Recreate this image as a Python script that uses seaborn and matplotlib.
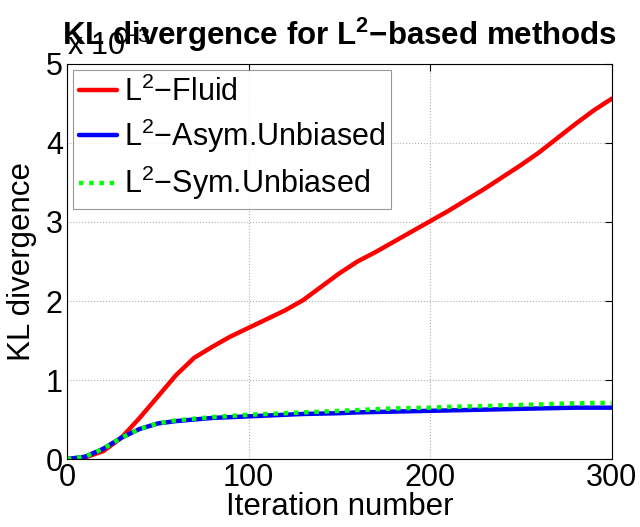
import numpy as np
import pandas as pd
import matplotlib
matplotlib.use("Agg")
import matplotlib.pyplot as plt
import seaborn as sns
from matplotlib.ticker import FuncFormatter

# ---- data (KL divergence) ----
iterations = list(range(0, 301, 10))
fluid = [0.0, 0.02, 0.10, 0.27, 0.52, 0.79, 1.06, 1.28, 1.42, 1.55, 1.66,
         1.77, 1.88, 2.01, 2.18, 2.35, 2.50, 2.62, 2.75, 2.88, 3.01,
         3.14, 3.28, 3.42, 3.57, 3.72, 3.88, 4.06, 4.24, 4.41, 4.56]
asym = [0.0, 0.03, 0.13, 0.27, 0.38, 0.45, 0.48, 0.50, 0.52, 0.53, 0.54,
        0.55, 0.56, 0.57, 0.575, 0.58, 0.59, 0.595, 0.60, 0.605, 0.61,
        0.615, 0.62, 0.625, 0.63, 0.635, 0.64, 0.645, 0.65, 0.65, 0.65]
sym = [0.0, 0.03, 0.13, 0.27, 0.38, 0.45, 0.49, 0.51, 0.53, 0.545, 0.56,
       0.57, 0.58, 0.59, 0.60, 0.61, 0.62, 0.63, 0.64, 0.645, 0.65,
       0.66, 0.665, 0.67, 0.68, 0.685, 0.69, 0.70, 0.705, 0.71, 0.71]
scale = 1e-3
series_names = ["L$^2$\u2212Fluid", "L$^2$\u2212Asym.Unbiased", "L$^2$\u2212Sym.Unbiased"]
colors = ["#ff0000", "#0000ff", "#00ff00"]
x_ticks = [0, 100, 200, 300]
y_ticks = [0, 1, 2, 3, 4, 5]

df = pd.DataFrame({
    "iter": iterations * 3,
    "kl": [v * scale for v in fluid + asym + sym],
    "method": [series_names[0]] * len(iterations) + [series_names[1]] * len(iterations)
              + [series_names[2]] * len(iterations),
})

sns.set_style("white")
plt.rcParams["font.family"] = ["Liberation Sans", "DejaVu Sans"]
plt.rcParams["mathtext.fontset"] = "custom"
plt.rcParams["mathtext.rm"] = "Liberation Sans"
plt.rcParams["mathtext.it"] = "Liberation Sans"
plt.rcParams["mathtext.bf"] = "Liberation Sans:bold"
plt.rcParams["text.color"] = "black"
plt.rcParams["axes.labelcolor"] = "black"

fig = plt.figure(figsize=(6.4, 5.27), dpi=100)
ax = fig.add_axes([0.1047, 0.129, 0.851, 0.7496])

sns.lineplot(data=df, x="iter", y="kl", hue="method", style="method",
             palette=dict(zip(series_names, colors)),
             dashes={series_names[0]: "", series_names[1]: "", series_names[2]: (1, 1.3)},
             linewidth=3.2, ax=ax, legend=True, sort=False)
for ln in ax.get_lines():
    ln.set_dash_capstyle("butt")

ax.set_xlim(0, 300)
ax.set_ylim(0, 5 * scale)
ax.set_xticks(x_ticks)
ax.set_yticks([t * scale for t in y_ticks])
ax.yaxis.set_major_formatter(FuncFormatter(lambda v, p: f"{v / scale:g}"))
ax.tick_params(direction="in", length=5, width=0.8, labelsize=22, top=True, right=True,
               pad=3, colors="black")
ax.grid(True, linestyle=":", color="#b0b0b0", linewidth=0.8)
for s in ax.spines.values():
    s.set_color("black")
    s.set_linewidth(0.8)

ax.set_xlabel("Iteration number", fontsize=22.5, labelpad=-0.5)
ax.set_ylabel("KL divergence", fontsize=22.5, labelpad=6)
ax.set_title("KL divergence for L$^{\\mathbf{2}}$\u2212based methods", fontsize=22.5,
             fontweight="bold", pad=14)
ax.text(0.0, 1.004, "x 10$^{-3}$", transform=ax.transAxes, fontsize=22,
        ha="left", va="bottom")

leg = ax.legend(loc="upper left", fontsize=22, frameon=True, fancybox=False,
                borderpad=0.2, handlelength=1.25, handletextpad=0.2,
                labelspacing=0.3, borderaxespad=0.2)
leg.get_frame().set_edgecolor("#808080")
leg.get_frame().set_linewidth(0.8)
for h in leg.get_lines():
    h.set_linewidth(3.2)
    h.set_dash_capstyle("butt")

fig.savefig("out.png", dpi=100)
